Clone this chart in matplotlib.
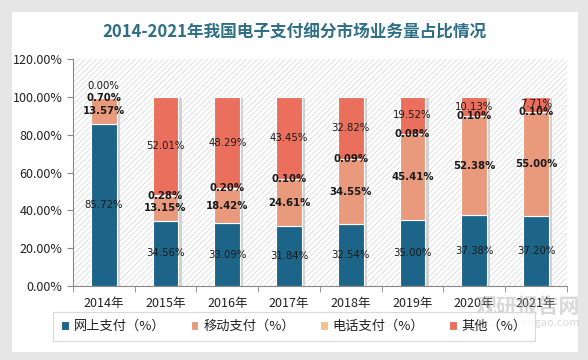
import matplotlib.pyplot as plt
from matplotlib.patches import Rectangle
import numpy as np

plt.rcParams['font.family'] = ['Noto Sans CJK SC', 'DejaVu Sans']
plt.rcParams['hatch.linewidth'] = 0.5
plt.rcParams['hatch.color'] = '#d6d6d6'

# data
years = ['2014年', '2015年', '2016年', '2017年', '2018年', '2019年', '2020年', '2021年']
online = [85.72, 34.56, 33.09, 31.84, 32.54, 35.00, 37.38, 37.20]
mobile = [13.57, 13.15, 18.42, 24.61, 34.55, 45.41, 52.38, 55.00]
phone = [0.70, 0.28, 0.20, 0.10, 0.09, 0.08, 0.10, 0.10]
other = [0.00, 52.01, 48.29, 43.45, 32.82, 19.52, 10.13, 7.71]
series_names = ['网上支付（%）', '移动支付（%）', '电话支付（%）', '其他（%）']
colors = ['#1d6489', '#ea9a7c', '#f3c08f', '#ea6f5d']
bold = [False, True, True, False]

fig = plt.figure(figsize=(5.88, 3.6), dpi=100)
fig.patch.set_facecolor('#e6e6e6')
# white card
fig.add_artist(Rectangle((12 / 588, 1 - 352 / 360), 566 / 588, 340 / 360,
                         transform=fig.transFigure, facecolor='white',
                         edgecolor='none', zorder=0))

ax = fig.add_axes([0.124, 0.2056, 0.84, 0.63])
ax.set_facecolor('none')
ax.add_patch(Rectangle((0, 0), 1, 1, transform=ax.transAxes, facecolor='white',
                       hatch='//////', edgecolor='#d6d6d6', lw=0, zorder=0))

x = np.arange(len(years))
w = 0.42
data = [online, mobile, phone, other]
totals = np.sum(data, axis=0)

# bar shadow
ax.bar(x + 0.05, totals - 0.5, w, bottom=0, color='#c8c8c8', zorder=1, alpha=0.8)

bottom = np.zeros(len(years))
for vals, name, c, b in zip(data, series_names, colors, bold):
    ax.bar(x, vals, w, bottom=bottom, color=c, label=name,
           edgecolor='white', linewidth=0.8, zorder=2)
    for xi, v, b0 in zip(x, vals, bottom):
        y = b0 + v / 2
        if v == 0:
            y = b0 + 6
        ax.text(xi, y, f'{v:.2f}%', ha='center', va='center', fontsize=7.3,
                fontweight='bold' if b else 'normal', color='#1a1a1a', zorder=3,
                family=['DejaVu Sans'])
    bottom += np.array(vals)

ax.set_xlim(-0.5, len(years) - 0.5)
ax.set_ylim(0, 120)
ax.set_yticks(np.arange(0, 121, 20))
ax.set_yticklabels([f'{t:.2f}%' for t in np.arange(0, 121, 20)])
ax.set_xticks(x)
ax.set_xticklabels(years)
ax.set_xticks(np.arange(-0.5, len(years), 1), minor=True)
ax.tick_params(axis='x', which='major', length=0, pad=8, labelsize=9, colors='#222222')
ax.tick_params(axis='x', which='minor', length=4, color='#888888')
ax.tick_params(axis='y', length=4, color='#888888', labelsize=9, labelcolor='#222222')
for s in ['top', 'right']:
    ax.spines[s].set_visible(False)
for s in ['left', 'bottom']:
    ax.spines[s].set_color('#888888')
    ax.spines[s].set_linewidth(0.8)

fig.text(0.5, 1 - 32 / 360, '2014-2021年我国电子支付细分市场业务量占比情况', ha='center',
         va='center', fontsize=12, fontweight='bold', color='#2f6f86')

leg = fig.legend(loc='center', bbox_to_anchor=(0.5, 1 - 326.5 / 360), ncol=4, frameon=True,
                 fancybox=False, fontsize=9.5, handlelength=0.6, handleheight=0.6,
                 handletextpad=0.35, columnspacing=1.9, borderpad=0.6, borderaxespad=0)
leg.get_frame().set_edgecolor('#d0d0d0')
leg.get_frame().set_linewidth(0.8)
for t in leg.get_texts():
    t.set_color('#222222')

# watermark
fig.text(0.986, 1 - 306 / 360, '观研报告网', ha='right', va='center', fontsize=15,
         fontweight='bold', color='#aaaaaa', alpha=0.45)
fig.text(0.986, 1 - 323 / 360, 'www.chinabaogao.com', ha='right', va='center', fontsize=8,
         color='#aaaaaa', alpha=0.45)

fig.savefig('out.png', dpi=100)
